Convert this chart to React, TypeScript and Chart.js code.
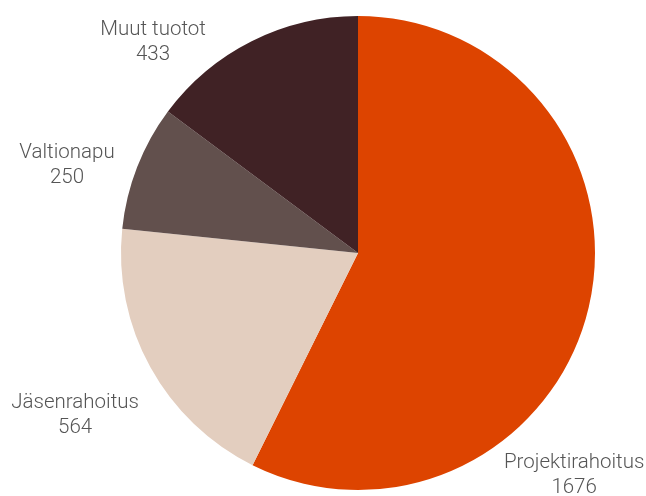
import React, { useEffect, useRef } from "react";
import { Chart, registerables } from "chart.js";

Chart.register(...registerables);

const categories = ["Projektirahoitus", "Jäsenrahoitus", "Valtionapu", "Muut tuotot"];
const values = [1676, 564, 250, 433];
const colors = ["#DD4400", "#E3CEBF", "#62504D", "#402225"];

// label placement (layout only): angle clockwise from top in degrees, distance from centre
const labelAngles = [135.8, 240.2, 286.8, 315.8];
const labelDistances = [310, 326, 304, 294];

const labelPlugin = {
  id: "outerLabels",
  afterDraw(chart: any) {
    const meta = chart.getDatasetMeta(0);
    const ctx = chart.ctx;
    ctx.save();
    ctx.font = "300 20.5px Roboto";
    ctx.fillStyle = "#555555";
    ctx.textAlign = "center";
    ctx.textBaseline = "middle";
    meta.data.forEach((arc: any, i: number) => {
      const { x, y } = arc.getProps(["x", "y"], true);
      const a = (labelAngles[i] * Math.PI) / 180;
      const d = labelDistances[i];
      const lx = x + Math.sin(a) * d;
      const ly = y - Math.cos(a) * d;
      ctx.fillText(String(chart.data.labels[i]), lx, ly - 12.5);
      ctx.fillText(String(chart.data.datasets[0].data[i]), lx, ly + 12.5);
    });
    ctx.restore();
  },
};

export default function App() {
  const ref = useRef<HTMLCanvasElement | null>(null);
  useEffect(() => {
    document.body.style.margin = "0";
    const chart = new Chart(ref.current as HTMLCanvasElement, {
      type: "pie",
      data: {
        labels: categories,
        datasets: [
          {
            data: values,
            backgroundColor: colors,
            borderWidth: 0,
          },
        ],
      },
      options: {
        animation: false,
        responsive: false,
        layout: { padding: { top: 16, bottom: 6, left: 70, right: 0 } },
        plugins: {
          legend: { display: false },
          tooltip: { enabled: false },
        },
      },
      plugins: [labelPlugin],
    });
    return () => chart.destroy();
  }, []);
  return (
    <div style={{ width: 646, height: 496 }}>
      <canvas ref={ref} width={646} height={496} style={{ width: 646, height: 496 }} />
    </div>
  );
}
